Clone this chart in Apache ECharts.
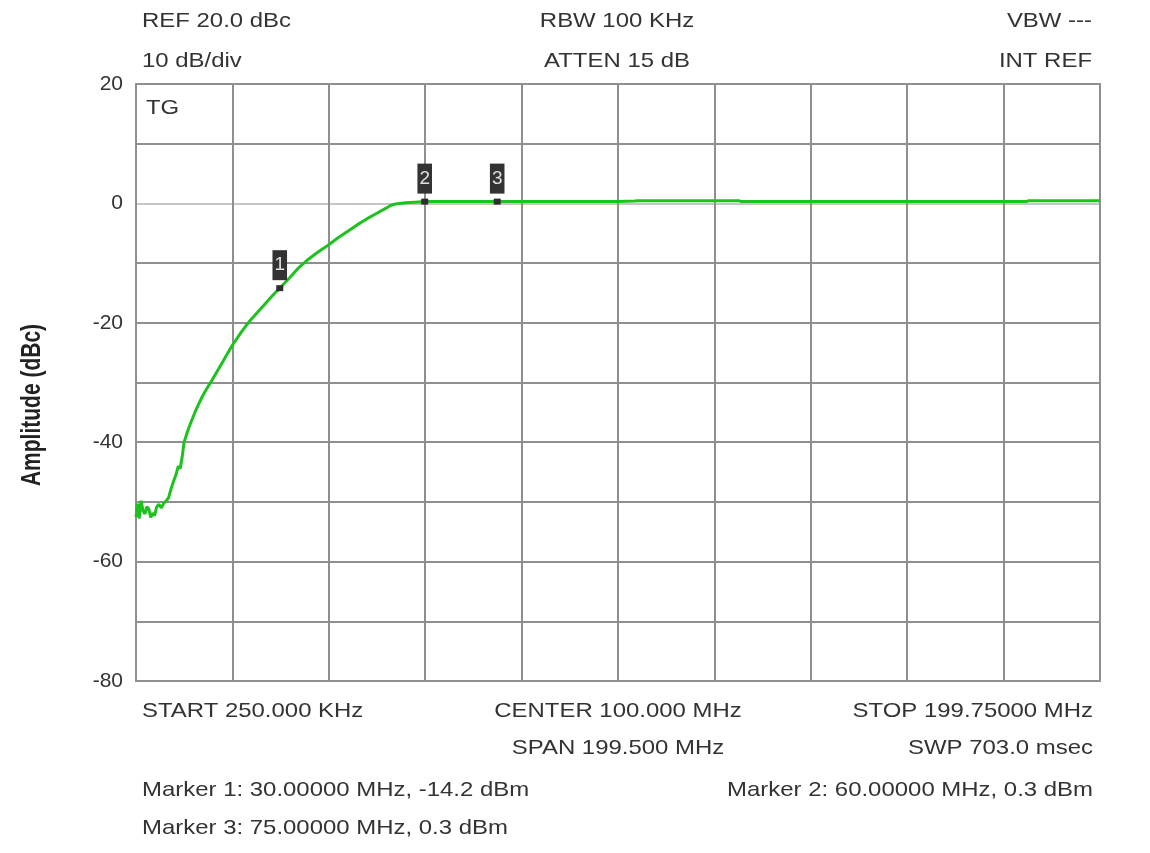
<!DOCTYPE html>
<html>
<head>
<meta charset="utf-8">
<script src="https://cdn.jsdelivr.net/npm/echarts@6/dist/echarts.min.js"></script>
<style>html,body{margin:0;padding:0;background:#fff}#c{width:1150px;height:853px}</style>
</head>
<body>
<div id="c"></div>
<script>
// ---- data ----
var freqMHz = [0.25,0.6,0.9,1.3,1.7,2.1,2.5,2.9,3.3,3.7,4.1,4.5,5.0,5.5,6.0,6.5,7.0,7.5,8.0,8.5,9.0,9.4,9.8,10.2,10.6,11.0,11.5,12.0,12.5,13.0,14.0,15.0,16.0,17.0,18.0,19.0,20.0,21.0,22.0,23.0,24.0,25.0,26.0,27.0,28.0,29.0,30.0,32,34,36,38,40,42,44,46,48,50,52,53,54,56,58,60,70,80,90,100,103.5,104,125,125.5,140,160,180,184.5,185,199.75];
var ampDBc  = [-52.5,-50.3,-52.8,-49.8,-51.5,-52.0,-50.8,-51.2,-52.6,-51.9,-52.3,-50.9,-50.4,-51.0,-50.2,-49.8,-49.3,-47.8,-46.6,-45.5,-44.0,-44.4,-42.5,-40.0,-39.0,-38.0,-36.9,-35.9,-34.9,-34.0,-32.3,-30.9,-29.6,-28.2,-26.8,-25.4,-24.0,-22.8,-21.6,-20.5,-19.5,-18.6,-17.7,-16.8,-15.9,-15.0,-14.2,-12.5,-10.7,-9.3,-8.1,-7.0,-5.8,-4.7,-3.6,-2.6,-1.7,-0.8,-0.3,-0.1,0.1,0.2,0.3,0.3,0.3,0.3,0.3,0.4,0.45,0.45,0.3,0.3,0.3,0.3,0.3,0.45,0.45];
var markerNames = ['1','2','3'];
var markerFreq  = [30, 60, 75];
var markerAmp   = [-14.2, 0.3, 0.3];
var yTicks = [20, 0, -20, -40, -60, -80];
var headerLeft   = ['REF 20.0 dBc', '10 dB/div'];
var headerCenter = ['RBW 100 KHz', 'ATTEN 15 dB'];
var headerRight  = ['VBW ---', 'INT REF'];
var footerLeft   = ['START 250.000 KHz', '', 'Marker 1: 30.00000 MHz, -14.2 dBm', 'Marker 3: 75.00000 MHz, 0.3 dBm'];
var footerCenter = ['CENTER 100.000 MHz', 'SPAN 199.500 MHz'];
var footerRight  = ['STOP 199.75000 MHz', 'SWP 703.0 msec', 'Marker 2: 60.00000 MHz, 0.3 dBm'];
var yAxisTitle = 'Amplitude (dBc)';
var insideLabel = 'TG';

// ---- build ----
var lineData = freqMHz.map(function(f,i){return [f, ampDBc[i]];});
var mkData = markerFreq.map(function(f,i){return [f, markerAmp[i], markerNames[i]];});

var FONT = '"Liberation Sans", Arial, Helvetica, sans-serif';
var TXT = '#333333';
var SX = 1.14;
function txt(s, x, y, align) {
  return {type:'text', x:x, y:y, scaleX:SX, silent:true,
    style:{text:s, fill:TXT, font:'21px ' + FONT, textAlign:align, textVerticalAlign:'middle'}};
}
var g = [];
var hY = [21, 61];
headerLeft.forEach(function(s,i){ g.push(txt(s, 142, hY[i], 'left')); });
headerCenter.forEach(function(s,i){ g.push(txt(s, 617, hY[i], 'center')); });
headerRight.forEach(function(s,i){ g.push(txt(s, 1092, hY[i], 'right')); });
var fY = [711, 748, 790, 828];
footerLeft.forEach(function(s,i){ if (s) g.push(txt(s, 142, fY[i], 'left')); });
footerCenter.forEach(function(s,i){ g.push(txt(s, 618, fY[i], 'center')); });
footerRight.forEach(function(s,i){ g.push(txt(s, 1093, fY[i], 'right')); });
g.push(txt(insideLabel, 146, 108, 'left'));
g.push({type:'text', x:32, y:405, rotation:Math.PI/2, scaleY:1.3, silent:true,
  style:{text:yAxisTitle, fill:'#222', font:'bold 21px ' + FONT, textAlign:'center', textVerticalAlign:'middle'}});

var GRID = '#8f8f8f';
var yColors = [];
for (var v = -80; v <= 20; v += 10) yColors.push(v === 0 ? '#c6c6c6' : GRID);

var chart = echarts.init(document.getElementById('c'), null, {renderer:'canvas'});
chart.setOption({
  animation:false,
  backgroundColor:'#fff',
  grid:{left:136, top:84, width:964, height:597, show:true, borderColor:GRID, borderWidth:2, backgroundColor:'transparent'},
  xAxis:[
    {type:'value', min:0.25, max:199.75, show:false, splitLine:{show:false}},
    {type:'value', min:0, max:10, interval:1, position:'bottom',
      axisLine:{show:false}, axisTick:{show:false}, axisLabel:{show:false},
      splitLine:{show:true, lineStyle:{color:GRID, width:2}}}
  ],
  yAxis:{type:'value', min:-80, max:20, interval:10,
    axisLine:{show:false}, axisTick:{show:false},
    axisLabel:{margin:13, color:TXT, fontSize:21, fontFamily:FONT,
      formatter:function(v){ return yTicks.indexOf(v) >= 0 ? String(v) : ''; }},
    splitLine:{show:true, lineStyle:{color:yColors, width:2}}},
  series:[
    {type:'line', xAxisIndex:0, data:lineData, showSymbol:false, symbol:'none', smooth:false, z:5,
      lineStyle:{color:'#1ec21e', width:3}},
    {type:'scatter', xAxisIndex:0, data:mkData, symbol:'rect', symbolSize:[7,6], z:6,
      itemStyle:{color:'#2e2e2e', opacity:1},
      label:{show:true, position:'top', distance:5, formatter:function(p){return p.value[2];},
        color:'#e0e0e0', backgroundColor:'#333333', fontSize:19, fontFamily:FONT,
        lineHeight:20, padding:[5,2,5,2]}}
  ],
  graphic:g
});
</script>
</body>
</html>
